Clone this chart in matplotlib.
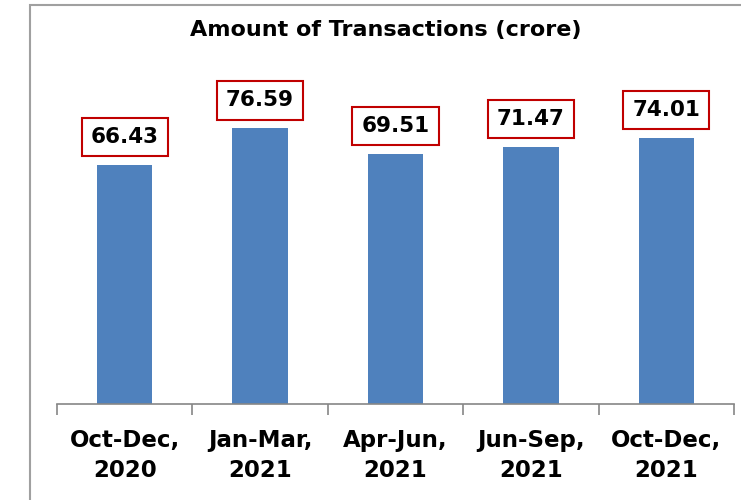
import matplotlib.pyplot as plt
from matplotlib.patches import Rectangle

periods = ["Oct-Dec,\n2020", "Jan-Mar,\n2021", "Apr-Jun,\n2021", "Jun-Sep,\n2021", "Oct-Dec,\n2021"]
amounts = [66.43, 76.59, 69.51, 71.47, 74.01]

bar_color = "#4F81BD"
box_color = "#C00000"
axis_color = "#868686"

fig = plt.figure(figsize=(7.41, 5), dpi=100)

# chart frame (runs off the right and bottom edge)
fig.patches.append(Rectangle((30 / 741, -0.05), 1.0, 1 - 5 / 500 + 0.05,
                             transform=fig.transFigure, fill=False,
                             edgecolor="#A0A0A0", linewidth=1.5))

ax = fig.add_axes([57 / 741, 1 - 404 / 500, 677 / 741, 360 / 500])
x = range(len(amounts))
ax.bar(x, amounts, width=0.41, color=bar_color)

for xi, v in zip(x, amounts):
    ax.annotate(f"{v:.2f}", (xi, v), xytext=(0, 20), textcoords="offset points",
                ha="center", va="center", fontsize=15.5, fontweight="bold",
                bbox=dict(boxstyle="square,pad=0.42", facecolor="white",
                          edgecolor=box_color, linewidth=1.5))

ax.set_xlim(-0.5, len(amounts) - 0.5)
ax.set_ylim(0, 100)

for s in ["left", "right", "top"]:
    ax.spines[s].set_visible(False)
ax.spines["bottom"].set_color(axis_color)
ax.spines["bottom"].set_linewidth(1.2)

ax.set_yticks([])
ax.set_xticks(list(x))
ax.set_xticklabels(periods, fontsize=16.5, fontweight="bold", linespacing=1.4)
ax.tick_params(axis="x", which="major", length=0, pad=18)
ax.set_xticks([i - 0.5 for i in range(len(amounts) + 1)], minor=True)
ax.tick_params(axis="x", which="minor", length=8, color=axis_color, width=1.2)

fig.text(386 / 741, 1 - 30 / 500, "Amount of Transactions (crore)",
         ha="center", va="center", fontsize=16, fontweight="bold")

fig.savefig("out.png", dpi=100)
